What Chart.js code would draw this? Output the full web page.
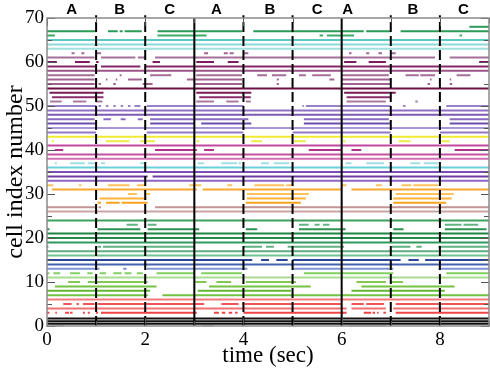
<!DOCTYPE html>
<html><head><meta charset="utf-8">
<script src="https://cdn.jsdelivr.net/npm/chart.js@4/dist/chart.umd.min.js"></script>
<style>html,body{margin:0;padding:0;background:#fff}#wrap{width:490px;height:370px}</style>
</head><body><div id="wrap"><canvas id="c" width="490" height="370"></canvas></div>
<script>
// ---- data ----
const cellIds = [68,67,66,65,64,63,62,61,60,59,58,57,56,55,54,53,52,51,50,49,48,47,46,45,44,43,42,41,40,39,38,37,36,35,34,33,32,31,30,29,28,27,26,24,23,22,21,20,19,18,17,16,15,14,13,12,11,10,9,8,7,6,5,4,3,1.7,1.1,0.5,0.05];
const cellColors = ['#2e9e5a','#2a9a55','#3aaa66','#5ec8c6','#8cdad8','#9fe0de','#a3648f','#a5709a','#7d1d5e','#85286a','#9c5588','#a66d98','#a0628f','#a0628f','#6c1046','#7a1c5a','#8a2e6e','#a87aa2','#9a80c8','#8f70c2','#7c5ab2','#8a6ac0','#6e4eae','#aa96d6','#9478c6','#f0ea30','#efe84a','#c2469e','#b2308e','#c4529f','#d070b4','#a3dde8','#6cd0dc','#7e4cb6','#6e3ca6','#9264c2','#ffc260','#f8a830','#ffc25a','#ffb23c','#f8a41e','#c49494','#caa4a4','#3fa060','#62b282','#2c9452','#1d8442','#248a4a','#319a5a','#62b282','#5cae7c','#72c290','#2a4898','#4462b2','#7f96d2','#82d062','#aadc92','#84c854','#74c244','#62ba34','#72c242','#f27a7a','#f05454','#f27070','#f04444','#111111','#111111','#111111','#c8c8c8'];
const spikeRuns = [
 [[8.6,9]],
 [[0,1.0],[1.24,1.44],[1.48,1.54],[1.58,1.93],[2.25,3.98],[4.2,6.45],[6.5,7.0],[7.2,9]],
 [[0,0.16],[2.25,3.25],[5.55,5.62],[5.7,6.25],[8.4,8.45]],
 [[0,9]],
 [[0,9]],
 [[0,9]],
 [[0.5,0.56],[0.7,0.76],[1.0,1.1],[3.2,3.28],[3.6,3.68],[3.72,3.8],[4.0,4.1],[6.15,6.2],[6.5,6.56],[6.75,6.82],[7.0,7.1]],
 [[0,0.97],[1.1,1.8],[1.85,2.0],[2.2,7.9],[8.2,9]],
 [[0,0.2],[0.57,0.87],[1.0,1.05],[2.15,2.3],[3.04,3.4],[3.68,3.9],[6.05,6.3],[6.55,6.9],[8.8,9]],
 [[0,0.98],[1.1,1.9],[2.0,9]],
 [[0,9]],
 [[0,0.97],[1.48,1.52],[2.1,2.53],[3.04,3.97],[4.28,4.48],[4.58,4.87],[5.13,5.27],[5.4,5.78],[6.0,6.96],[7.3,7.57],[7.6,7.9],[8.34,8.62]],
 [[0,0.97],[1.2,1.23],[1.4,1.43],[1.65,1.93],[2.85,3.97],[4.68,4.72],[5.75,5.85],[6.0,7.0],[7.8,7.83],[8.2,8.23]],
 [[0,0.97],[1.05,1.1],[1.35,1.4],[1.95,2.15],[3.0,3.97],[4.68,4.72],[6.0,7.0],[7.75,7.8],[8.2,8.25]],
 [[0,9]],
 [[0.05,1.15],[3.04,4.16],[6.05,7.1]],
 [[0.1,1.15],[3.1,3.97],[4.0,4.15],[6.1,7.0]],
 [[0.06,0.3],[0.53,0.8],[1.0,1.13],[3.04,3.4],[3.65,3.9],[4.05,4.15],[6.1,6.9],[7.5,7.55]],
 [[0,1.0],[1.05,1.1],[1.2,1.25],[1.35,1.4],[1.5,1.55],[1.65,1.7],[1.78,1.9],[2.03,4.0],[5.2,5.23],[5.27,7.0],[7.25,7.3],[8.13,9]],
 [[0,9]],
 [[0,9]],
 [[0,0.97],[1.15,1.3],[1.5,1.6],[1.85,1.95],[2.1,4.1],[5.23,6.96],[8.2,9]],
 [[0,1.0],[2.1,3.0],[3.14,4.16],[5.23,7.0],[8.2,9]],
 [[0,9]],
 [[0,1.0],[2.03,4.0],[5.0,7.0],[8.0,9]],
 [[0,9]],
 [[0.1,0.14],[1.2,1.68],[1.9,2.2],[3.05,3.1],[4.16,4.38],[5.03,5.27],[6.03,6.08],[7.16,7.4],[8.03,8.2]],
 [[0,9]],
 [[0.16,0.33],[2.2,3.05],[3.2,3.4],[5.33,6.0],[6.2,6.4],[8.3,9]],
 [[0,9]],
 [[0,9]],
 [[0.16,0.2],[0.47,0.77],[0.83,0.97],[1.1,1.18],[1.9,2.0],[3.07,3.2],[3.55,3.87],[3.9,3.95],[4.36,4.52],[4.62,4.93],[6.08,6.2],[6.5,6.86],[7.4,7.6],[7.67,7.97]],
 [[0,9]],
 [[0,9]],
 [[0,2.05],[2.15,9]],
 [[0,9]],
 [[0,0.13],[0.65,0.7],[1.24,1.68],[1.83,2.0],[2.9,3.14],[3.67,3.77],[4.22,4.83],[4.87,5.03],[6.0,6.1],[6.7,6.82],[7.22,7.42],[7.46,7.97]],
 [[0.1,3.05],[3.17,6.0],[6.2,9]],
 [[1.65,1.83],[1.98,2.1],[4.07,5.33],[7.1,8.28]],
 [[1.07,2.03],[4.07,5.27],[7.05,8.24]],
 [[1.03,1.1],[1.2,1.48],[1.52,2.05],[4.05,5.17],[7.05,8.13]],
 [[0,1.0],[1.05,1.1],[2.2,9]],
 [[0,9]],
 [[0,9]],
 [[1.62,1.85],[2.05,2.23],[5.13,5.33],[5.45,5.55],[5.62,5.75],[8.1,8.44],[8.48,8.78]],
 [[0,0.05],[1.03,1.9],[2.05,3.1],[4.05,4.28],[5.13,6.08],[7.05,7.26],[8.1,8.95]],
 [[0,9]],
 [[0,9]],
 [[0,9]],
 [[0,0.03],[1.03,1.1],[1.14,3.0],[4.0,4.38],[4.46,4.62],[4.9,6.05],[7.02,7.4],[7.52,7.63],[7.97,9]],
 [[0,9]],
 [[0,9]],
 [[0,4.18],[4.36,4.52],[4.67,4.9],[5.0,7.2],[7.36,7.57],[7.7,9]],
 [[0,9]],
 [[0,1.07],[1.55,1.62],[2.03,4.08],[5.0,7.05],[7.97,9]],
 [[0,0.05],[0.13,0.27],[0.47,0.67],[0.82,0.93],[1.07,1.2],[1.35,1.52],[1.58,1.72],[1.83,1.95],[2.23,3.0],[3.14,3.97],[5.23,7.05],[8.13,9]],
 [[0,9]],
 [[0.43,0.67],[0.83,2.05],[3.0,3.25],[3.45,3.75],[4.05,5.07],[6.3,6.9],[7.0,7.25]],
 [[0.16,2.23],[3.3,5.37],[6.4,8.3]],
 [[0,2.1],[3.07,4.97],[6.2,8.1]],
 [[0,2.05],[2.35,9]],
 [[0,9]],
 [[0.33,0.5],[0.6,0.65],[0.73,0.97],[1.03,3.2],[3.55,3.9],[3.97,6.0],[6.2,6.45],[6.5,6.86],[7.1,9]],
 [[0,6.1],[6.2,6.9],[7.05,9]],
 [[0,0.05],[0.17,0.2],[0.37,0.45],[0.47,0.52],[0.73,0.77],[0.83,0.87],[1.0,1.04],[1.1,3.05],[3.4,3.5],[3.56,3.63],[3.7,3.77],[3.83,3.88],[4.0,6.1],[6.45,6.6],[6.63,6.68],[6.72,6.75],[6.85,6.9],[7.1,9]],
 [[0,9]],
 [[0,9]],
 [[0,9]],
 [[0.1,0.35],[3.15,3.4],[6.15,6.9]]
];
const stimulusOnsets = [3,6];           // solid lines
const phaseBoundaries = [1,2,4,5,7,8];  // dashed lines
const phaseLabels = ['A','B','C','A','B','C','A','B','C'];
const phaseLabelTimes = [0.5,1.48,2.5,3.45,4.54,5.5,6.12,7.45,8.48];
const xTickValues = [0,2,4,6,8];
const yTickValues = [0,10,20,30,40,50,60,70];

// ---- build datasets ----
const datasets = [];
cellIds.forEach((cell, i) => {
  const pts = [];
  spikeRuns[i].forEach(([s, e]) => {
    pts.push({x: s, y: cell}, {x: e, y: cell}, {x: e, y: null});
  });
  datasets.push({data: pts, borderColor: cellColors[i], borderWidth: 2, pointRadius: 0,
    spanGaps: false, tension: 0, borderCapStyle: 'butt', order: 2, clip: false});
});
stimulusOnsets.forEach(t => datasets.push({data: [{x: t, y: 0}, {x: t, y: 70}], borderColor: '#000',
  borderWidth: 2, pointRadius: 0, order: 0, clip: false}));
phaseBoundaries.forEach(t => datasets.push({data: [{x: t, y: 0}, {x: t, y: 70.6}], borderColor: '#000',
  borderWidth: 2, borderDash: [10, 4], pointRadius: 0, order: 0, clip: false}));

const decor = {
  id: 'decor',
  afterDraw(chart) {
    const {ctx, chartArea: a, scales: {x, y}} = chart;
    ctx.save();
    ctx.strokeStyle = '#555';
    ctx.lineWidth = 1;
    for (let v = 0; v <= 70; v += 5) {
      const py = Math.round(y.getPixelForValue(v)) + 0.5;
      const len = v % 10 === 0 ? 8 : 5;
      ctx.beginPath(); ctx.moveTo(a.left, py); ctx.lineTo(a.left + len, py);
      ctx.moveTo(a.right, py); ctx.lineTo(a.right - len, py); ctx.stroke();
    }
    for (let v = 0; v <= 9; v += 1) {
      const px = Math.round(x.getPixelForValue(v)) + 0.5;
      const len = v % 2 === 0 ? 8 : 5;
      ctx.beginPath(); ctx.moveTo(px, a.bottom); ctx.lineTo(px, a.bottom - len);
      ctx.moveTo(px, a.top); ctx.lineTo(px, a.top + len); ctx.stroke();
    }
    ctx.strokeStyle = '#8a8a8a';
    ctx.lineWidth = 1.5;
    ctx.strokeRect(a.left, a.top, a.right - a.left, a.bottom - a.top);
    ctx.fillStyle = '#000';
    ctx.font = 'bold 15px "Liberation Sans", Arial, sans-serif';
    ctx.textAlign = 'center';
    ctx.textBaseline = 'middle';
    phaseLabels.forEach((l, i) => ctx.fillText(l, x.getPixelForValue(phaseLabelTimes[i]), 10));
    ctx.restore();
  }
};

new Chart(document.getElementById('c'), {
  type: 'line',
  data: {datasets},
  options: {
    responsive: false, animation: false,
    layout: {padding: {top: 18, right: 1, left: 0, bottom: 0}},
    plugins: {legend: {display: false}, tooltip: {enabled: false}},
    scales: {
      x: {
        type: 'linear', min: 0, max: 9,
        afterBuildTicks: s => { s.ticks = xTickValues.map(v => ({value: v})); },
        afterFit: s => { s.height = 44; },
        grid: {display: false, drawTicks: false}, border: {display: false},
        ticks: {color: '#000', padding: 3, maxRotation: 0, font: {family: '"Liberation Serif", "Times New Roman", serif', size: 19}},
        title: {display: true, text: 'time (sec)', color: '#000', padding: {top: 0, bottom: 0},
          font: {family: '"Liberation Serif", "Times New Roman", serif', size: 23}}
      },
      y: {
        type: 'linear', min: 0, max: 70,
        afterBuildTicks: s => { s.ticks = yTickValues.map(v => ({value: v})); },
        afterFit: s => { s.width = 47; },
        grid: {display: false, drawTicks: false}, border: {display: false},
        ticks: {color: '#000', padding: 3, font: {family: '"Liberation Serif", "Times New Roman", serif', size: 19}},
        title: {display: true, text: 'cell index number', color: '#000', padding: {top: 1, bottom: 0},
          font: {family: '"Liberation Serif", "Times New Roman", serif', size: 24}}
      }
    }
  },
  plugins: [decor]
});
</script></body></html>
